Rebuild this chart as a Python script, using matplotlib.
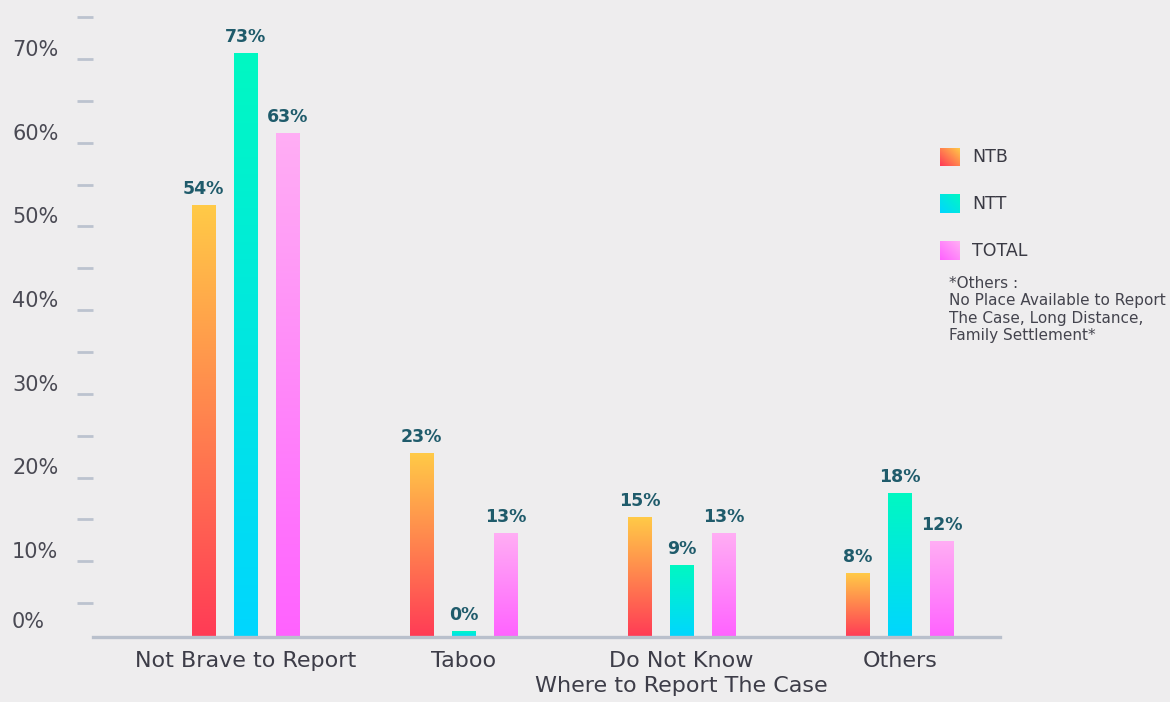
import numpy as np
import matplotlib.pyplot as plt
import matplotlib.transforms as mtransforms
from matplotlib.colors import LinearSegmentedColormap

categories = ['Not Brave to Report', 'Taboo', 'Do Not Know\nWhere to Report The Case', 'Others']
series = ['NTB', 'NTT', 'TOTAL']
ntb = [54, 23, 15, 8]
ntt = [73, 0, 9, 18]
total = [63, 13, 13, 12]
y_ticks = [0, 10, 20, 30, 40, 50, 60, 70]
note = '*Others :\nNo Place Available to Report\nThe Case, Long Distance,\nFamily Settlement*'

# bottom / top colour of each bar gradient
grad_colors = {
    'NTB': ('#ff3b56', '#ffca47'),
    'NTT': ('#00d6ff', '#00f8c2'),
    'TOTAL': ('#ff62ff', '#ffaef4'),
}

bg = '#eeedee'
plt.rcParams['font.family'] = 'DejaVu Sans'

fig = plt.figure(figsize=(11.7, 7.02), dpi=100, facecolor=bg)
W, H = 1170, 702
ax = fig.add_axes([93 / W, 1 - 637 / H, (1000 - 93) / W, 637 / H])
ax.set_facecolor('none')

x = np.arange(len(categories))
offset = 0.193
width = 0.11
min_visible = 0.7  # keep 0% bars visible as a thin stub

values = {'NTB': ntb, 'NTT': ntt, 'TOTAL': total}
grad = np.linspace(0, 1, 256).reshape(-1, 1)

for j, s in enumerate(series):
    cmap = LinearSegmentedColormap.from_list(s, grad_colors[s])
    for i, v in enumerate(values[s]):
        xc = x[i] + (j - 1) * offset
        h = max(v, min_visible)
        ax.imshow(grad, cmap=cmap, origin='lower', aspect='auto',
                  extent=[xc - width / 2, xc + width / 2, 0, h], zorder=2)
        ax.annotate(f'{v}%', (xc, h), xytext=(0, 5), textcoords='offset points',
                    ha='center', va='bottom', fontsize=12.5, fontweight='bold',
                    color='#1f5b6b')

ax.set_xlim(-0.70, 3.46)
ax.set_ylim(0, 637 / 8)

for side in ['top', 'right', 'left']:
    ax.spines[side].set_visible(False)
ax.spines['bottom'].set_color('#b9c0cc')
ax.spines['bottom'].set_linewidth(2.4)
ax.set_yticks([])
ax.set_xticks(x)
ax.set_xticklabels(categories, fontsize=16, color='#3d3d48', linespacing=1.3)
ax.tick_params(axis='x', length=0, pad=10)

# dashed scale on the left
ax2 = ax.twinx()
ax2.set_ylim(0.956, 77.06)
for side in ['top', 'right', 'left', 'bottom']:
    ax2.spines[side].set_visible(False)
ax2.yaxis.tick_left()
ax2.set_yticks(np.arange(5, 80, 5))
ax2.set_yticklabels([])
ax2.tick_params(axis='y', direction='out', length=11.5, width=2, color='#bcc3cf')

lab_tf = mtransforms.blended_transform_factory(fig.transFigure, ax2.transData)
for v in y_ticks:
    yy = v + 1.1 if v > 0 else 2.75
    ax2.text(12 / W, yy, f'{v}%', transform=lab_tf, ha='left', va='center',
             fontsize=15, color='#4a4a54')

# legend swatches
diag = np.add.outer(np.linspace(1, 0, 20), np.linspace(0, 1, 20)) / 2
for j, s in enumerate(series):
    cy = 157 + 47 * j
    lax = fig.add_axes([940 / W, 1 - (cy + 9.5) / H, 19 / W, 19 / H])
    cmap = LinearSegmentedColormap.from_list(s + '_leg', grad_colors[s])
    lax.imshow(diag, cmap=cmap, aspect='auto', vmin=0, vmax=1)
    lax.axis('off')
    fig.text(972 / W, 1 - cy / H, s, ha='left', va='center', fontsize=12.5,
             color='#3a3a44')

fig.text(949 / W, 1 - 276 / H, note, ha='left', va='top', fontsize=11,
         color='#44444e', linespacing=1.2)

fig.savefig('out.png', dpi=100, facecolor=bg)
